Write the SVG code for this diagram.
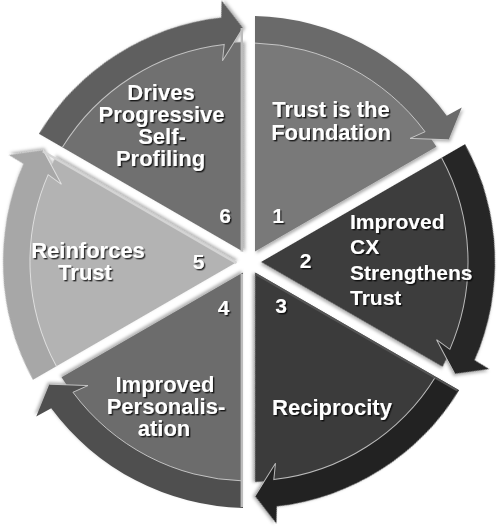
<svg xmlns="http://www.w3.org/2000/svg" xmlns:xlink="http://www.w3.org/1999/xlink" width="500" height="527" viewBox="0 0 500 527">
<style>
.t{font-family:"Liberation Sans",Arial,sans-serif;font-weight:bold;font-size:22px;fill:#fff;filter:url(#ts)}
.c{text-anchor:middle}
.n{font-size:21px}
.hl{fill:none;stroke:#d2d2d2;stroke-width:1;stroke-opacity:0.85}
.lit{stroke:#bdbdbd;stroke-width:2.4}
.sh{filter:url(#ds)}
</style>
<defs>
<filter id="ts" x="-10%" y="-20%" width="130%" height="150%">
<feDropShadow dx="1.4" dy="1.4" stdDeviation="0.7" flood-color="#000" flood-opacity="0.75"/>
</filter>
<filter id="ds" x="-10%" y="-10%" width="130%" height="130%">
<feDropShadow dx="1.5" dy="2" stdDeviation="1.5" flood-color="#000" flood-opacity="0.3"/>
</filter>
<path id="wedge" d="M255,251.6 L255,42.08 A220,220 0 0 1 436.46,146.84 Z"/>
<path id="band" d="M255,16.07 A246,246 0 0 1 446.75,115.67 L461.77,107.41 L448.64,139.8 L410.05,138.42 L425.05,131.73 A219,219 0 0 0 255,43.08 Z"/>
<path id="hlp" d="M255,43.08 A219,219 0 0 1 425.05,131.73 L410.05,138.42 L448.64,139.8"/>
<line id="eS" x1="256.2" y1="250" x2="256.2" y2="17"/>
<line id="eE" x1="254.4" y1="250.56" x2="448.04" y2="138.76"/>
</defs>
<rect width="500" height="527" fill="#fff"/>

<g id="connectors"></g>

<g id="node1">
<g class="sh">
<use xlink:href="#wedge" fill="#797979"/>
<use xlink:href="#band" fill="#6a6a6a"/>
</g>
<use xlink:href="#hlp" class="hl"/>
<text class="t c" x="331" y="117">Trust is the</text>
<text class="t c" x="331" y="140">Foundation</text>
<text class="t c n" x="278" y="223">1</text>
</g>

<g id="node2">
<g class="sh" transform="rotate(60 249 262)">
<use xlink:href="#wedge" fill="#3e3e3e"/>
<use xlink:href="#band" fill="#282828"/>
</g>
<use xlink:href="#hlp" class="hl" transform="rotate(60 249 262)"/>
<text class="t n" x="350" y="229">Improved</text>
<text class="t n" x="350" y="254">CX</text>
<text class="t n" x="350" y="280">Strengthens</text>
<text class="t n" x="350" y="305">Trust</text>
<text class="t c n" x="305.5" y="268">2</text>
</g>

<g id="node3">
<g class="sh" transform="rotate(120 249 262)">
<use xlink:href="#wedge" fill="#3b3b3b"/>
<use xlink:href="#band" fill="#242424"/>
</g>
<use xlink:href="#hlp" class="hl" transform="rotate(120 249 262)"/>
<use xlink:href="#eS" stroke="#555" stroke-width="2" transform="rotate(120 249 262)"/>
<text class="t c" x="332" y="415">Reciprocity</text>
<text class="t c n" x="281" y="313">3</text>
</g>

<g id="node4">
<g class="sh" transform="rotate(180 249 262)">
<use xlink:href="#wedge" fill="#6c6c6c"/>
<use xlink:href="#band" fill="#4f4f4f"/>
</g>
<use xlink:href="#hlp" class="hl" transform="rotate(180 249 262)"/>
<use xlink:href="#eS" class="lit" transform="rotate(180 249 262)"/>
<text class="t c" x="165" y="391.5">Improved</text>
<text class="t c" x="166" y="413.7">Personalis-</text>
<text class="t c" x="164" y="436">ation</text>
<text class="t c n" x="223.5" y="315">4</text>
</g>

<g id="node5">
<g class="sh" transform="rotate(240 249 262)">
<use xlink:href="#wedge" fill="#b3b3b3"/>
<use xlink:href="#band" fill="#a7a7a7"/>
</g>
<use xlink:href="#hlp" class="hl" transform="rotate(240 249 262)" style="stroke:#e8e8e8"/>
<use xlink:href="#eE" class="lit" transform="rotate(240 249 262)" style="stroke:#d4d4d4"/>
<text class="t c" x="88" y="258">Reinforces</text>
<text class="t c" x="85" y="280">Trust</text>
<text class="t c n" x="198.5" y="269">5</text>
</g>

<g id="node6">
<g class="sh" transform="rotate(300 249 262)">
<use xlink:href="#wedge" fill="#707070"/>
<use xlink:href="#band" fill="#5f5f5f"/>
</g>
<use xlink:href="#hlp" class="hl" transform="rotate(300 249 262)"/>
<use xlink:href="#eE" class="lit" transform="rotate(300 249 262)"/>
<text class="t c" x="161" y="99.5">Drives</text>
<text class="t c" x="161.5" y="121.7">Progressive</text>
<text class="t c" x="162" y="144">Self-</text>
<text class="t c" x="160.5" y="166">Profiling</text>
<text class="t c n" x="225" y="223">6</text>
</g>
</svg>
